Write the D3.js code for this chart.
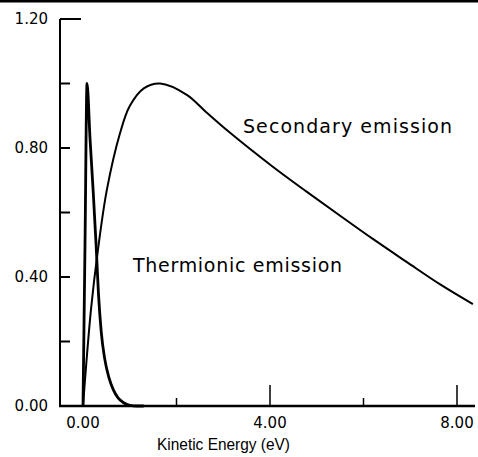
<!DOCTYPE html>
<meta charset="utf-8">
<head>
    <script src="https://d3js.org/d3.v7.min.js"></script>
    <style>
        body {
            margin: 0px;
            padding: 0px;
            background: white;
        }
        text {
            fill: black;
        }
    </style>
    <title>Emission spectra</title>
</head>

<body>
    <div id="chart"></div>

    <script>
        // tick values and labels
        var yTicks = [0, 0.2, 0.4, 0.6, 0.8, 1.0, 1.2];
        var yLabels = [0, 0.4, 0.8, 1.2];
        var xMajor = [0, 4, 8];
        var xMinor = [2, 6];
        var xLabels = [0, 4, 8];

        // secondary emission curve
        var secEnergy = [0, 0.17, 0.32, 0.51, 0.79, 1.0, 1.3, 1.65, 2.22, 2.63, 3.14, 4.06, 4.79, 5.50, 6.20, 6.93, 7.64, 8.34];
        var secValue = [0, 0.298, 0.484, 0.670, 0.845, 0.93, 0.985, 1.0, 0.965, 0.912, 0.848, 0.742, 0.664, 0.590, 0.518, 0.446, 0.377, 0.316];

        // thermionic emission curve
        var thEnergy = [0, 0.043, 0.086, 0.15, 0.22, 0.28, 0.33, 0.39, 0.46, 0.55, 0.65, 0.75, 0.87, 1.0, 1.15, 1.3];
        var thValue = [0, 0.5, 1.0, 0.83, 0.66, 0.50, 0.35, 0.23, 0.15, 0.09, 0.05, 0.025, 0.01, 0.002, 0, 0];

        var width = 478,
            height = 457;

        var svg = d3.select("#chart").append("svg")
            .attr("width", width)
            .attr("height", height);

        var x = d3.scaleLinear().domain([0, 8]).range([83, 457]);
        var y = d3.scaleLinear().domain([0, 1.2]).range([406, 19]);

        //scan border along the top
        svg.append("rect")
            .attr("x", 0).attr("y", 0)
            .attr("width", width).attr("height", 2.5)
            .style("fill", "black");

        //axis lines
        svg.append("line")
            .attr("x1", 60).attr("x2", 60)
            .attr("y1", y(1.2)).attr("y2", y(0) + 1)
            .style("stroke", "black").style("stroke-width", 2);
        svg.append("line")
            .attr("x1", 59).attr("x2", 475)
            .attr("y1", y(0)).attr("y2", y(0))
            .style("stroke", "black").style("stroke-width", 2.5);

        //y ticks point inward
        svg.selectAll(".ytick").data(yTicks).enter().append("line")
            .attr("class", "ytick")
            .attr("x1", 60)
            .attr("x2", function (d) { return d == 1.2 ? 81 : 70; })
            .attr("y1", function (d) { return y(d); })
            .attr("y2", function (d) { return y(d); })
            .style("stroke", "black").style("stroke-width", 2);

        svg.selectAll(".ylab").data(yLabels).enter().append("text")
            .attr("class", "ylab")
            .attr("x", 48)
            .attr("y", function (d) { return y(d); })
            .attr("dy", "0.36em")
            .attr("text-anchor", "end")
            .style("font-family", "DejaVu Sans")
            .style("font-size", "15px")
            .text(function (d) { return d.toFixed(2); });

        //x ticks
        svg.selectAll(".xmaj").data(xMajor).enter().append("line")
            .attr("class", "xmaj")
            .attr("x1", function (d) { return x(d); })
            .attr("x2", function (d) { return x(d); })
            .attr("y1", y(0)).attr("y2", y(0) - 21)
            .style("stroke", "black").style("stroke-width", 1.5);
        svg.selectAll(".xmin").data(xMinor).enter().append("line")
            .attr("class", "xmin")
            .attr("x1", function (d) { return x(d); })
            .attr("x2", function (d) { return x(d); })
            .attr("y1", y(0)).attr("y2", y(0) - 8)
            .style("stroke", "black").style("stroke-width", 1.5);

        svg.selectAll(".xlab").data(xLabels).enter().append("text")
            .attr("class", "xlab")
            .attr("x", function (d) { return x(d); })
            .attr("y", 423)
            .attr("dy", "0.36em")
            .attr("text-anchor", "middle")
            .style("font-family", "DejaVu Sans")
            .style("font-size", "15px")
            .text(function (d) { return d.toFixed(2); });

        svg.append("text")
            .attr("x", 157)
            .attr("y", 450)
            .attr("textLength", 133).attr("lengthAdjust", "spacingAndGlyphs")
            .style("font-family", "Liberation Sans")
            .style("font-size", "17px")
            .text("Kinetic Energy (eV)");

        //curves
        var secLine = d3.line()
            .x(function (d) { return x(d[0]); })
            .y(function (d) { return y(d[1]); })
            .curve(d3.curveCatmullRom.alpha(0.5));

        var thLine = d3.line()
            .x(function (d) { return x(d[0]); })
            .y(function (d) { return y(d[1]); })
            .curve(d3.curveMonotoneX);

        svg.append("path")
            .datum(d3.zip(secEnergy, secValue))
            .attr("d", secLine)
            .style("fill", "none")
            .style("stroke", "black")
            .style("stroke-width", 2);

        svg.append("path")
            .datum(d3.zip(thEnergy, thValue))
            .attr("d", thLine)
            .style("fill", "none")
            .style("stroke", "black")
            .style("stroke-width", 2.8)
            .style("stroke-linejoin", "miter");

        //curve labels
        svg.append("text")
            .attr("x", 243).attr("y", 133)
            .attr("textLength", 209).attr("lengthAdjust", "spacing")
            .style("font-family", "DejaVu Sans")
            .style("font-size", "19px")
            .text("Secondary emission");

        svg.append("text")
            .attr("x", 133).attr("y", 272)
            .attr("textLength", 209).attr("lengthAdjust", "spacing")
            .style("font-family", "DejaVu Sans")
            .style("font-size", "19px")
            .text("Thermionic emission");
    </script>
</body>
